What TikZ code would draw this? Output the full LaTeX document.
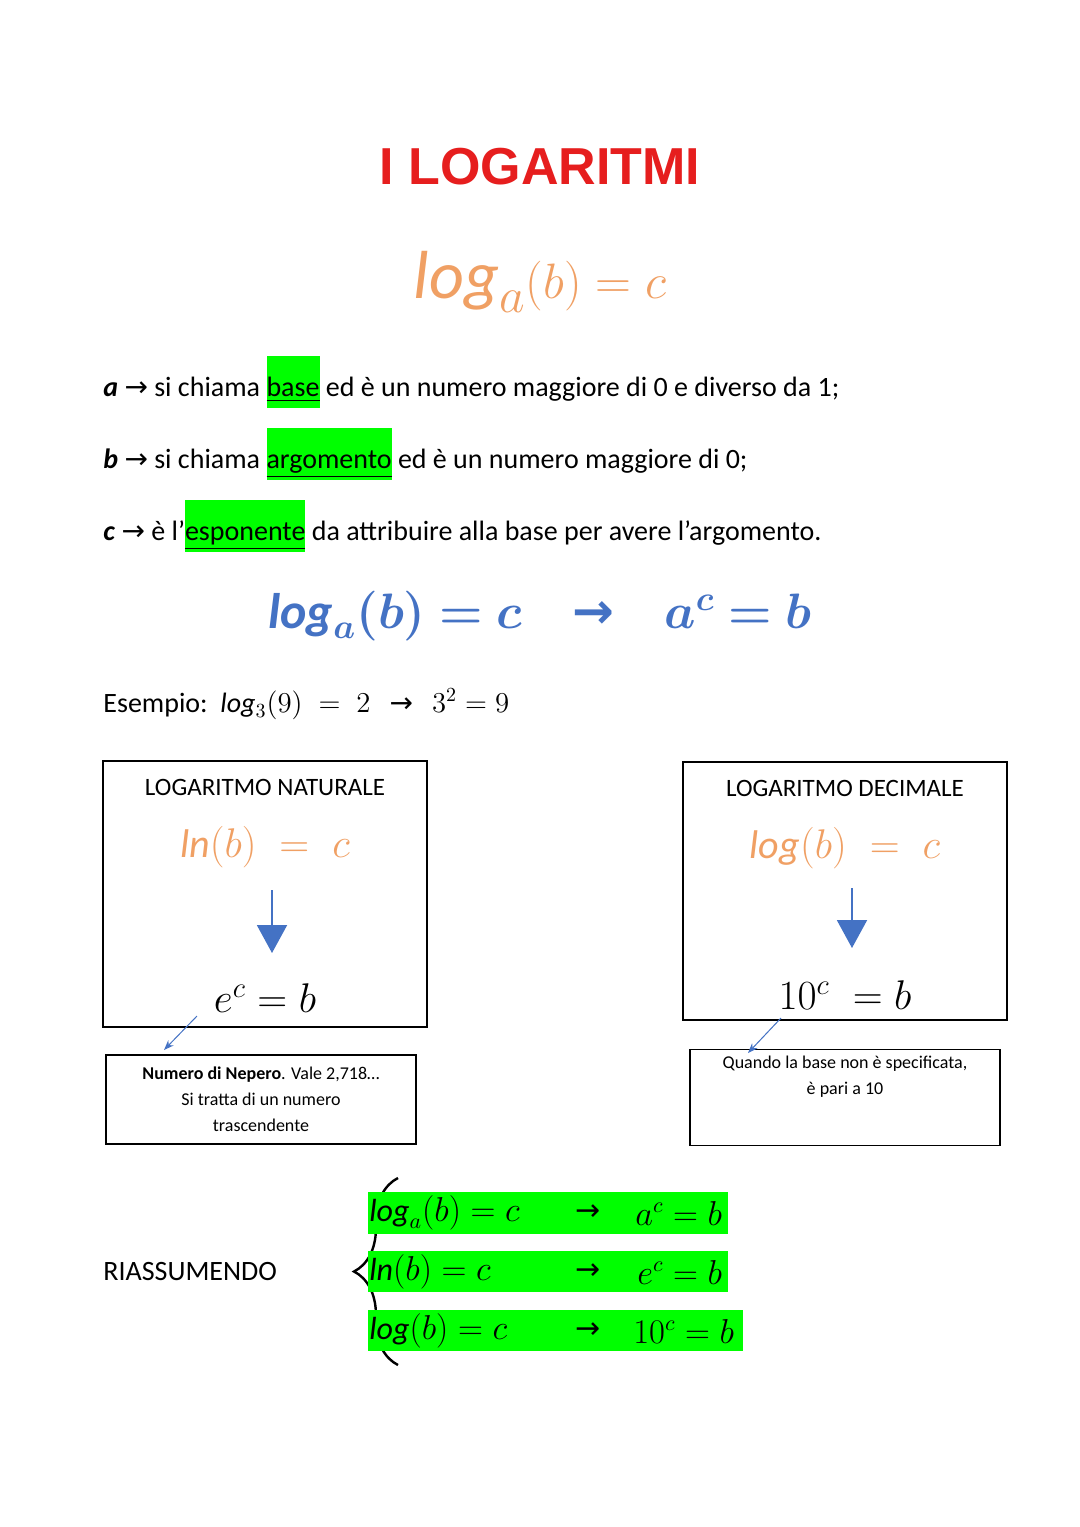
\documentclass[tikz,border=0pt]{standalone}
\usepackage{amsmath,bm}
\usepackage{fontspec}
\setmainfont{Carlito}
\newfontfamily\sym{DejaVu Sans}
\newfontfamily\titlef{Liberation Sans}
\usetikzlibrary{arrows.meta,decorations.pathreplacing}
\definecolor{orng}{RGB}{240,160,100}
\definecolor{blu}{RGB}{68,114,196}
\definecolor{hl}{RGB}{0,255,0}
\definecolor{tred}{RGB}{230,30,30}
\newcommand{\hlw}[1]{{\setlength\fboxsep{0pt}\colorbox{hl}{\rule[-6pt]{0pt}{26pt}\underline{#1}}}}
\newcommand{\ar}{{\sym\char"2192}}
\tikzset{
 body/.style={anchor=west,font=\fontsize{14}{17}\selectfont,inner sep=0},
 box/.style={draw,line width=0.6pt},
 thin/.style={blu,-{Stealth[length=5pt]},line width=0.5pt},
 thick/.style={blu,line width=1pt,-{Triangle[width=15pt,length=14pt]}},
 grn/.style={fill=hl,draw=none}
}
\begin{document}
\begin{tikzpicture}[x=0.5pt,y=-0.5pt]
\useasboundingbox[fill=white] (0,0) rectangle (1080,1527);
\node (t) at (540,167) {\titlef\bfseries\fontsize{26}{30}\selectfont\color{tred}I LOGARITMI};
\node (f1) at (540,282) {\fontsize{34}{40}\selectfont\color{orng}$\mathit{log}_a(b) = c$};
\node[body] (ra) at (103,382) {\textbf{\textit{a}} \ar\ si chiama \hlw{base} ed è un numero maggiore di 0 e diverso da 1;};
\node[body] (rb) at (103,454) {\textbf{\textit{b}} \ar\ si chiama \hlw{argomento} ed è un numero maggiore di 0;};
\node[body] (rc) at (103,526) {\textbf{\textit{c}} \ar\ è l’\hlw{esponente} da attribuire alla base per avere l’argomento.};
\node (f2) at (540,616) {\fontsize{25}{30}\selectfont\color{blu}$\bm{\mathit{log}_a(b) = c}$\quad{\sym\bfseries\char"2192}\quad$\bm{a^c = b}$};
\node[body] (ex) at (103,704) {Esempio:\ \ $\mathit{log}_3(9)\;=\;2$\ \ \ \ar\ \ \ $3^2 = 9$};
% left box
\draw[box] (103,761) rectangle (427,1027);
\node[font=\fontsize{12.5}{15}\selectfont] (ln1) at (265,787) {LOGARITMO NATURALE};
\node (ln2) at (265,847) {\fontsize{20}{24}\selectfont\color{orng}$\mathit{ln}(b)\;=\;c$};
\node (ln3) at (265,998) {\fontsize{22}{26}\selectfont$e^c = b$};
\coordinate (la) at (272,890); \coordinate (lb) at (272,953);
\draw[thick] (la) -- (lb);
% right box
\draw[box] (683,762) rectangle (1007,1020);
\node[font=\fontsize{12.5}{15}\selectfont] (lg1) at (845,788) {LOGARITMO DECIMALE};
\node (lg2) at (845,848) {\fontsize{20}{24}\selectfont\color{orng}$\mathit{log}(b)\;=\;c$};
\node (lg3) at (845,995) {\fontsize{22}{26}\selectfont$10^c\;=b$};
\coordinate (ra1) at (852,888); \coordinate (rb1) at (852,948);
\draw[thick] (ra1) -- (rb1);
% small boxes
\node[box,minimum width=155pt,minimum height=44.5pt,align=center,font=\fontsize{9}{13}\selectfont] (nb) at (261,1099.5) {\textbf{Numero di Nepero}. Vale 2,718…\\Si tratta di un numero\\trascendente};
\node[box,minimum width=155pt,minimum height=44.5pt,align=center,font=\fontsize{9}{13}\selectfont,text depth=22pt] (db) at (845,1097.5) {Quando la base non è specificata,\\è pari a 10};
\coordinate (n0) at (197,1016); \coordinate (n1) at (164,1050);
\draw[thin] (n0) -- (n1);
\coordinate (d0) at (781,1018); \coordinate (d1) at (748,1053);
\draw[thin] (d0) -- (d1);
% summary
\node[body] (rs) at (103,1272) {RIASSUMENDO};
\draw[line width=1.2pt,decorate,decoration={brace,amplitude=22pt}] (398,1365) -- (398,1178);
\fill[hl] (368,1192) rectangle (728,1234);
\fill[hl] (368,1251) rectangle (728,1292);
\fill[hl] (368,1310) rectangle (743,1351);
\node[body,font=\fontsize{16}{19}\selectfont] (s1) at (369,1213) {$\mathit{log}_a(b) = c$};
\node[body,font=\fontsize{16}{19}\selectfont] (s2) at (369,1272) {$\mathit{ln}(b) = c$};
\node[body,font=\fontsize{16}{19}\selectfont] (s3) at (369,1331) {$\mathit{log}(b) = c$};
\foreach \y in {1213,1272,1331} \node[body,font=\fontsize{15}{18}\selectfont] at (575,\y) {\ar};
\node[body,font=\fontsize{16}{19}\selectfont] (t1) at (635,1213) {$a^c = b$};
\node[body,font=\fontsize{16}{19}\selectfont] (t2) at (637,1272) {$e^c = b$};
\node[body,font=\fontsize{16}{19}\selectfont] (t3) at (633,1331) {$10^c = b$};
\end{tikzpicture}
\end{document}
